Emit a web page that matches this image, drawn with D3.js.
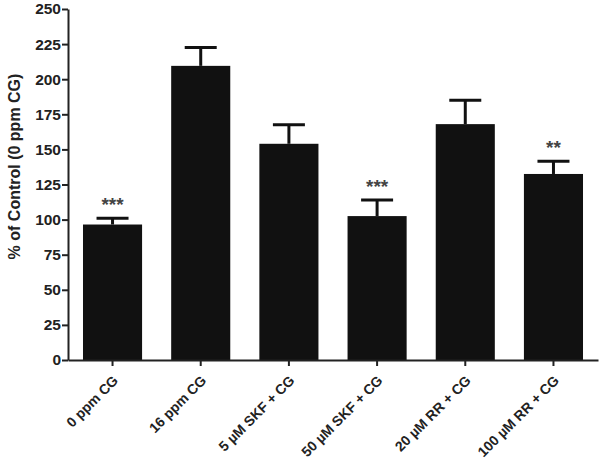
<!DOCTYPE html>
<html>
<head>
<meta charset="utf-8">
<script src="https://cdn.jsdelivr.net/npm/d3@7"></script>
<style>
  body { margin: 0; background: #fff; }
  svg text { font-family: "Liberation Sans", Arial, sans-serif; font-weight: bold; }
</style>
</head>
<body>
<div id="chart"></div>
<script>
// data
const groups = ["0 ppm CG", "16 ppm CG", "5 \u00b5M SKF + CG", "50 \u00b5M SKF + CG", "20 \u00b5M RR + CG", "100 \u00b5M RR + CG"];
const means = [96.5, 209.5, 154, 102.5, 168, 132.5];
const errors = [4.5, 13, 13.5, 11.5, 17, 9];
const stars = ["***", "", "", "***", "", "**"];
const yTicks = [0, 25, 50, 75, 100, 125, 150, 175, 200, 225, 250];

const width = 600, height = 462;
const margin = { top: 9, right: 2, bottom: 102, left: 68 };

const svg = d3.select("#chart").append("svg")
  .attr("width", width)
  .attr("height", height);

const x = d3.scaleBand()
  .domain(groups)
  .range([margin.left, width - margin.right])
  .paddingInner(0.33)
  .paddingOuter(0.17);

const y = d3.scaleLinear()
  .domain([0, 250])
  .range([height - margin.bottom, margin.top]);

// bars
svg.selectAll("rect.bar")
  .data(groups)
  .enter()
  .append("rect")
  .attr("class", "bar")
  .attr("x", d => x(d))
  .attr("y", (d, i) => y(means[i]))
  .attr("width", x.bandwidth())
  .attr("height", (d, i) => y(0) - y(means[i]))
  .attr("fill", "#111");

// error bars, upper only
const capHalf = 16;
const err = svg.selectAll("g.err")
  .data(groups)
  .enter()
  .append("g")
  .attr("class", "err")
  .attr("stroke", "#111")
  .attr("stroke-width", 3);

err.append("line")
  .attr("x1", d => x(d) + x.bandwidth() / 2)
  .attr("x2", d => x(d) + x.bandwidth() / 2)
  .attr("y1", (d, i) => y(means[i]))
  .attr("y2", (d, i) => y(means[i] + errors[i]));

err.append("line")
  .attr("x1", d => x(d) + x.bandwidth() / 2 - capHalf)
  .attr("x2", d => x(d) + x.bandwidth() / 2 + capHalf)
  .attr("y1", (d, i) => y(means[i] + errors[i]))
  .attr("y2", (d, i) => y(means[i] + errors[i]));

// significance stars
svg.selectAll("text.star")
  .data(groups)
  .enter()
  .append("text")
  .attr("class", "star")
  .attr("x", d => x(d) + x.bandwidth() / 2)
  .attr("y", (d, i) => y(means[i] + errors[i]) - 7)
  .attr("text-anchor", "middle")
  .attr("font-size", 19)
  .attr("fill", "#444")
  .text((d, i) => stars[i]);

// axes
const yAxis = d3.axisLeft(y).tickValues(yTicks).tickSize(6).tickSizeOuter(0);
const gy = svg.append("g")
  .attr("transform", `translate(${margin.left},0)`)
  .call(yAxis);
gy.select(".domain").attr("stroke", "#222").attr("stroke-width", 2);
gy.selectAll(".tick line").attr("stroke", "#222").attr("stroke-width", 2);
gy.selectAll(".tick text")
  .attr("font-size", 15.5)
  .attr("fill", "#222")
  .attr("x", -7);

const xAxis = d3.axisBottom(x).tickSize(6).tickSizeOuter(0);
const gx = svg.append("g")
  .attr("transform", `translate(0,${y(0)})`)
  .call(xAxis);
gx.select(".domain").attr("stroke", "#222").attr("stroke-width", 2);
gx.selectAll(".tick line").attr("stroke", "#222").attr("stroke-width", 2);
gx.selectAll(".tick text")
  .attr("font-size", 14)
  .attr("fill", "#222")
  .attr("text-anchor", "end")
  .attr("x", 0)
  .attr("y", 0)
  .attr("dy", "0.35em")
  .attr("transform", "translate(3,18) rotate(-45)");

// y title
svg.append("text")
  .attr("transform", `translate(20,${(y(0) + y(250)) / 2 - 18}) rotate(-90)`)
  .attr("text-anchor", "middle")
  .attr("font-size", 16)
  .attr("fill", "#222")
  .text("% of Control (0 ppm CG)");
</script>
</body>
</html>
